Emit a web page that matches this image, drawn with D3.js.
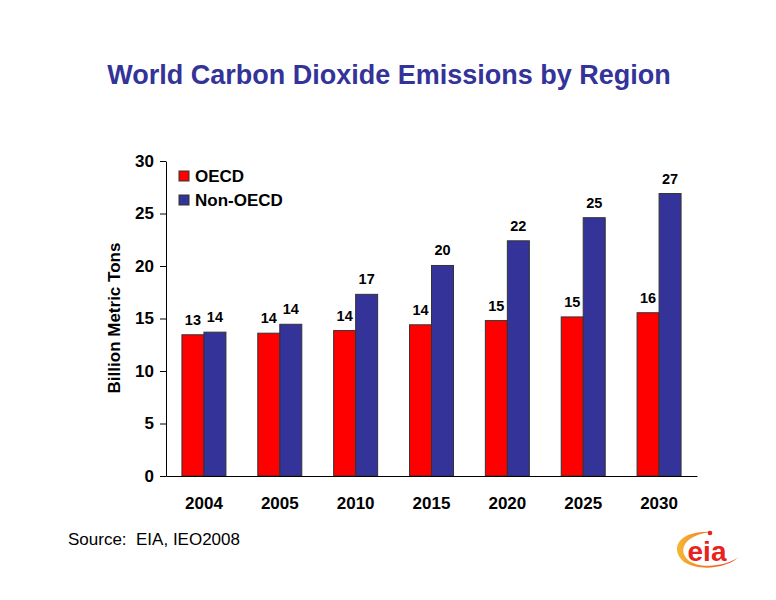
<!DOCTYPE html>
<html>
<head>
<meta charset="utf-8">
<script src="https://cdn.jsdelivr.net/npm/d3@7"></script>
<style>
  body { margin: 0; background: #fff; }
  svg { display: block; }
</style>
</head>
<body>
<svg id="chart" width="776" height="600"></svg>
<script>
const years = ["2004", "2005", "2010", "2015", "2020", "2025", "2030"];
const seriesNames = ["OECD", "Non-OECD"];
const oecd = [13.45, 13.6, 13.85, 14.4, 14.8, 15.15, 15.55];
const nonOecd = [13.7, 14.45, 17.3, 20.05, 22.4, 24.6, 26.9];
const yTicks = [0, 5, 10, 15, 20, 25, 30];
const colors = ["#FF0000", "#333399"];

const svg = d3.select("#chart");
const font = "'Liberation Sans', Arial, sans-serif";

const x0 = d3.scaleBand().domain(years).range([166, 697]).paddingInner(0.42).paddingOuter(0.21);
const x1 = d3.scaleBand().domain(seriesNames).range([0, x0.bandwidth()]);
const y = d3.scaleLinear().domain([0, 30]).range([476, 161]);

// Title
svg.append("text")
  .attr("x", 389).attr("y", 84)
  .attr("text-anchor", "middle")
  .attr("font-family", font).attr("font-weight", "bold")
  .attr("font-size", 27).attr("fill", "#333399")
  .text("World Carbon Dioxide Emissions by Region");

// Bars
const data = years.map((yr, i) => ({ year: yr, values: [oecd[i], nonOecd[i]] }));
const groups = svg.append("g").selectAll("g").data(data).join("g")
  .attr("transform", d => `translate(${x0(d.year)},0)`);

groups.selectAll("rect").data(d => d.values.map((v, j) => ({ name: seriesNames[j], v, j })))
  .join("rect")
  .attr("x", d => x1(d.name))
  .attr("y", d => y(d.v))
  .attr("width", x1.bandwidth())
  .attr("height", d => y(0) - y(d.v))
  .attr("fill", d => colors[d.j])
  .attr("stroke", "#333")
  .attr("stroke-width", 1);

groups.selectAll("text.lbl").data(d => d.values.map((v, j) => ({ name: seriesNames[j], v, j })))
  .join("text").attr("class", "lbl")
  .attr("x", d => x1(d.name) + x1.bandwidth() / 2)
  .attr("y", d => y(d.v) - 10)
  .attr("text-anchor", "middle")
  .attr("font-family", font).attr("font-weight", "bold")
  .attr("font-size", 14.5).attr("fill", "#000")
  .text(d => d3.format(".0f")(d.v));

// Y axis
const yAxis = svg.append("g").attr("transform", "translate(166,0)")
  .call(d3.axisLeft(y).tickValues(yTicks).tickSize(6).tickPadding(6).tickSizeOuter(0));
yAxis.select(".domain").attr("stroke", "#000");
yAxis.selectAll(".tick line").attr("stroke", "#000");
yAxis.selectAll("text").attr("font-family", font).attr("font-weight", "bold")
  .attr("font-size", 17).attr("fill", "#000");

// X axis
const xAxis = svg.append("g").attr("transform", `translate(0,${y(0)})`)
  .call(d3.axisBottom(x0).tickSize(0).tickPadding(21).tickSizeOuter(0));
xAxis.select(".domain").attr("stroke", "#000");
xAxis.selectAll("text").attr("font-family", font).attr("font-weight", "bold")
  .attr("font-size", 17).attr("fill", "#000");

// Y title
svg.append("text")
  .attr("transform", "translate(120,318) rotate(-90)")
  .attr("text-anchor", "middle")
  .attr("font-family", font).attr("font-weight", "bold")
  .attr("font-size", 17).attr("fill", "#000")
  .text("Billion Metric Tons");

// Legend
const legend = svg.append("g");
seriesNames.forEach((n, i) => {
  legend.append("rect")
    .attr("x", 179).attr("y", 171 + i * 24)
    .attr("width", 10).attr("height", 10)
    .attr("fill", colors[i]).attr("stroke", "#333").attr("stroke-width", 1);
  legend.append("text")
    .attr("x", 195).attr("y", 182 + i * 24)
    .attr("font-family", font).attr("font-weight", "bold")
    .attr("font-size", 17).attr("fill", "#000")
    .text(n);
});

// Source
svg.append("text")
  .attr("x", 68).attr("y", 545)
  .style("white-space", "pre")
  .attr("font-family", font).attr("font-size", 17).attr("fill", "#000")
  .text("Source:  EIA, IEO2008");

// EIA logo
const logo = svg.append("g");
const defs = svg.append("defs");
const grad = defs.append("linearGradient").attr("id", "sw").attr("x1", "0").attr("x2", "1");
grad.append("stop").attr("offset", "0").attr("stop-color", "#F7B733");
grad.append("stop").attr("offset", "1").attr("stop-color", "#E8401C");
logo.append("path")
  .attr("d", "M 712 532 C 680 530, 668 548, 684 562 C 700 572, 728 568, 740 556 C 728 566, 700 570, 688 560 C 676 548, 688 534, 712 532 Z")
  .attr("fill", "url(#sw)");
logo.append("circle").attr("cx", 710).attr("cy", 533).attr("r", 2.3).attr("fill", "#E8231E");
logo.append("text")
  .attr("x", 707).attr("y", 561).attr("text-anchor", "middle")
  .attr("font-family", font).attr("font-weight", "bold")
  .attr("font-size", 28).attr("fill", "#E8231E")
  .text("eia");
</script>
</body>
</html>
